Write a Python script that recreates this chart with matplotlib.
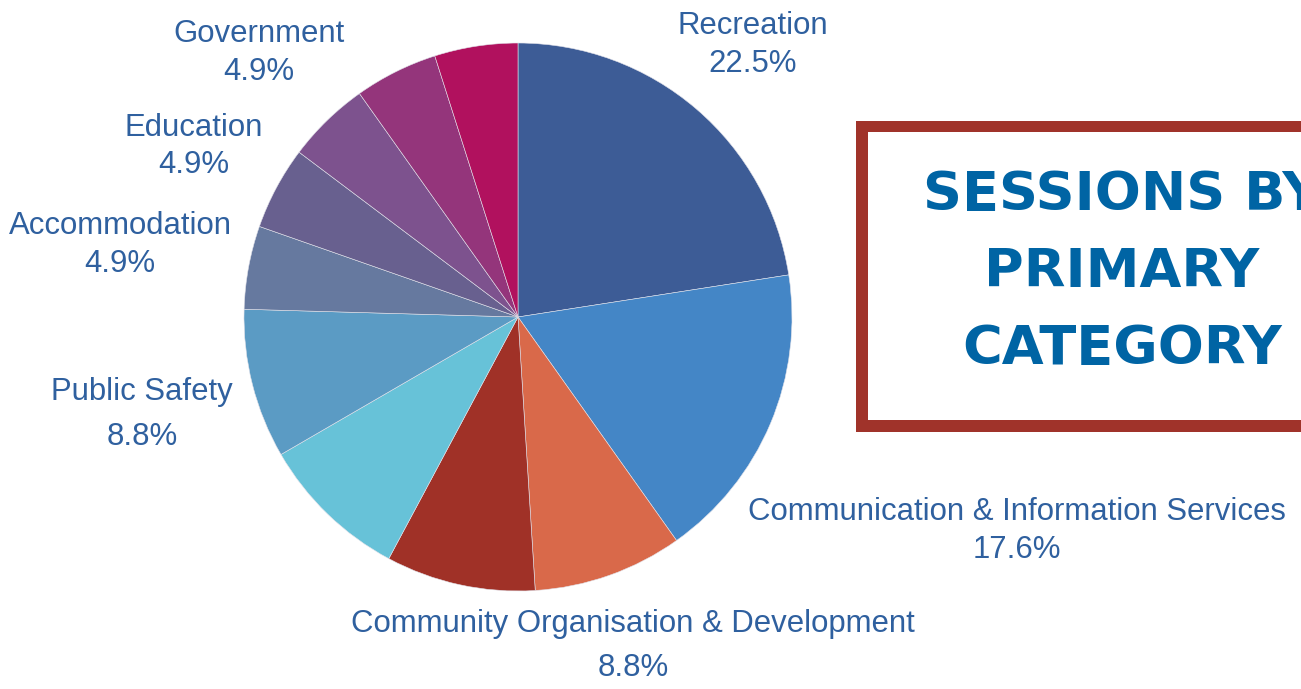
import matplotlib
matplotlib.use("Agg")
import matplotlib.pyplot as plt
from matplotlib.patches import Rectangle

# ---- data ----
categories = ["Recreation", "Communication & Information Services",
              "Community Organisation & Development", "", "", "Public Safety",
              "Accommodation", "Education", "Government", "", ""]
shares = [22.5, 17.6, 8.8, 8.8, 8.8, 8.8, 4.9, 4.9, 4.9, 4.9, 4.9]
colors = ["#3D5C96", "#4486C6", "#D9694A", "#A03127", "#67C2D8", "#5B9BC4",
          "#66799F", "#68608F", "#7D528E", "#94357B", "#B1115E"]
title_lines = ["SESSIONS BY", "PRIMARY", "CATEGORY"]

# ---- layout (pixel positions) ----
W, H = 1301, 689
label_pos = {  # category: (center x, name y, pct y) in pixels from top-left
    "Recreation": (753, 26, 64),
    "Communication & Information Services": (1017, 512, 550),
    "Community Organisation & Development": (633, 624, 668),
    "Public Safety": (142, 392, 437),
    "Accommodation": (120, 226, 264),
    "Education": (194, 128, 165),
    "Government": (259, 34, 72),
}
label_color = "#2F609F"

fig = plt.figure(figsize=(W / 100, H / 100), dpi=100)
fig.patch.set_facecolor("white")

cx, cy, r = 518, 317, 274
ax = fig.add_axes([(cx - r) / W, (H - cy - r) / H, 2 * r / W, 2 * r / H])
ax.pie(shares, colors=colors, startangle=90, counterclock=False, radius=1,
       wedgeprops=dict(edgecolor="#E2E2EA", linewidth=0.4))
ax.set_xlim(-1, 1)
ax.set_ylim(-1, 1)
ax.set_aspect("equal")
ax.axis("off")

def px(x, y):
    return x / W, 1 - y / H

for name, val in zip(categories, shares):
    if name in label_pos:
        x, y1, y2 = label_pos[name]
        fig.text(*px(x, y1), name, ha="center", va="center", fontsize=22.4,
                 color=label_color, family="Liberation Sans")
        fig.text(*px(x, y2), f"{val}%", ha="center", va="center", fontsize=22.4,
                 color=label_color, family="Liberation Sans")

# title box: red frame drawn as outer red block with inner white block
outer = Rectangle(px(856, 432), (1420 - 856) / W, (432 - 121) / H,
                  transform=fig.transFigure, facecolor="#A0332A",
                  edgecolor="none", clip_on=False)
inner = Rectangle(px(868, 420), (1420 - 868) / W, (420 - 132) / H,
                  transform=fig.transFigure, facecolor="white",
                  edgecolor="none", clip_on=False)
fig.add_artist(outer)
fig.add_artist(inner)

for line, y in zip(title_lines, [195, 272, 349]):
    fig.text(*px(1122, y), line, ha="center", va="center", fontsize=39,
             color="#0064A4", family="DejaVu Sans", fontweight="bold")

fig.savefig("out.png", dpi=100, facecolor="white")
